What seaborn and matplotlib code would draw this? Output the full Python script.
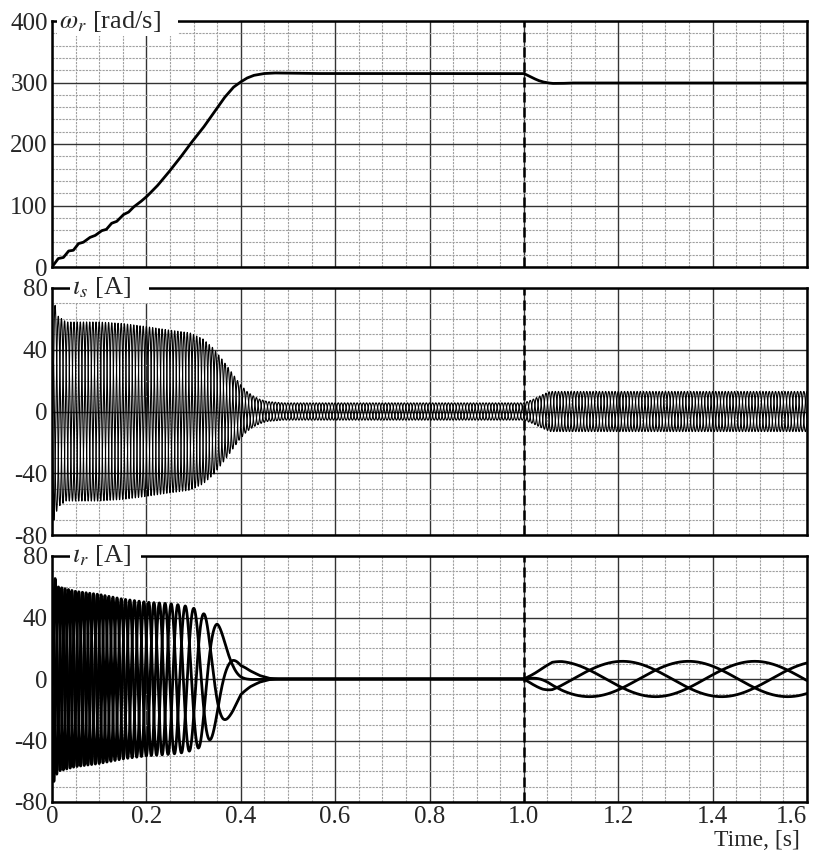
import numpy as np
import pandas as pd
import matplotlib
matplotlib.use('Agg')
import matplotlib.pyplot as plt
from matplotlib.ticker import MultipleLocator
import seaborn as sns

# rotor speed (s, rad/s)
speed_t = [0, 0.013, 0.024, 0.035, 0.045, 0.056, 0.066, 0.080, 0.091, 0.105, 0.115,
           0.126, 0.137, 0.151, 0.162, 0.172, 0.186, 0.200, 0.222, 0.243, 0.270,
           0.292, 0.320, 0.342, 0.365, 0.384, 0.398, 0.4125, 0.427, 0.448, 0.470,
           0.550, 1.000, 1.010, 1.020, 1.030, 1.040, 1.050, 1.060, 1.080, 1.100,
           1.600]
speed_w = [0, 13.7, 15.3, 26, 27, 38, 40, 48, 51, 59, 61,
           71, 74, 85, 89, 97, 105, 114, 131, 150, 176,
           199, 226, 250, 275, 292, 300, 307, 311.5, 314.5, 315.5,
           314.6, 314.6, 311, 307, 303.5, 301, 299.5, 298.5, 298.5, 299.2,
           299.2]

# stator current amplitude (envelope of the 50 Hz band), A
stator_env_t = [0, 0.004, 0.012, 0.03, 0.10, 0.15, 0.20, 0.243, 0.292, 0.32, 0.342,
                0.36, 0.377, 0.398, 0.413, 0.427, 0.44, 0.456, 0.49, 1.0, 1.02,
                1.04, 1.055, 1.6]
stator_env_a = [0, 72, 62, 58, 58, 57, 55, 53, 51, 47, 41,
                34, 27, 18, 13, 10, 8, 6.5, 5.6, 5.6, 8,
                11, 13, 13]

# rotor current amplitude, A
rotor_env_t = [0, 0.004, 0.012, 0.05, 0.10, 0.15, 0.20, 0.25, 0.275, 0.29, 0.31,
               0.333, 0.35, 0.362, 0.383, 0.40, 0.42, 0.44, 0.46, 0.48, 1.0,
               1.02, 1.04, 1.06, 1.08, 1.6]
rotor_env_a = [0, 68, 60, 57, 55, 52, 50, 49, 48, 47, 45,
               40, 36, 31, 21, 11, 6, 2.5, 0.5, 0, 0,
               4, 8, 11, 11.5, 11.5]

supply_freq = 50.0                 # Hz
sync_speed = 2 * np.pi * supply_freq
rotor_peak_time = 1.07             # phase a of rotor current tops out here
load_step = 1.0

time_ticks = [0, 0.2, 0.4, 0.6, 0.8, 1.0, 1.2, 1.4, 1.6]
time_labels = ['0', '0.2', '0.4', '0.6', '0.8', '1.0', '1.2', '1.4', '1.6']

# three-phase waveforms from the read envelopes and the read speed
t = np.linspace(0, 1.6, 16001)
w = np.interp(t, speed_t, speed_w)
slip = sync_speed - w
theta_r = np.concatenate([[0], np.cumsum((slip[1:] + slip[:-1]) / 2 * np.diff(t))])
theta_r -= np.interp(rotor_peak_time, t, theta_r)
theta_s = sync_speed * t
amp_s = np.interp(t, stator_env_t, stator_env_a)
amp_r = np.interp(t, rotor_env_t, rotor_env_a)
shifts = {'a': 0.0, 'b': -2 * np.pi / 3, 'c': 2 * np.pi / 3}

speed_df = pd.DataFrame({'t': t, 'w': w})
stator_df = pd.concat([pd.DataFrame({'t': t, 'i': amp_s * np.cos(theta_s + s), 'ph': k})
                       for k, s in shifts.items()])
rotor_df = pd.concat([pd.DataFrame({'t': t, 'i': amp_r * np.cos(theta_r + s), 'ph': k})
                      for k, s in shifts.items()])

sns.set_style('white')
plt.rcParams['font.family'] = ['Liberation Serif', 'DejaVu Serif']
plt.rcParams['mathtext.fontset'] = 'stix'
plt.rcParams['axes.unicode_minus'] = False

fig = plt.figure(figsize=(8.13, 8.52), dpi=100)
W, H = 813, 852
left, right = 52, 807
boxes = [(21, 267), (288, 535), (556, 802)]
axes = [fig.add_axes([left / W, 1 - b / H, (right - left) / W, (b - tp) / H]) for tp, b in boxes]

sns.lineplot(data=speed_df, x='t', y='w', ax=axes[0], color='black', lw=2.0,
             estimator=None, sort=False)
sns.lineplot(data=stator_df, x='t', y='i', hue='ph', ax=axes[1], palette=['black'] * 3,
             lw=0.8, estimator=None, sort=False, legend=False)
sns.lineplot(data=rotor_df, x='t', y='i', hue='ph', ax=axes[2], palette=['black'] * 3,
             lw=2.0, estimator=None, sort=False, legend=False)

labels = [(r'$\omega_r$ [rad/s]   ', 0.009), (r'$\imath_s$ [A]   ', 0.027), (r'$\imath_r$ [A]  ', 0.026)]
for i, ax in enumerate(axes):
    ax.set_xlim(0, 1.6)
    ax.xaxis.set_major_locator(plt.FixedLocator(time_ticks))
    ax.xaxis.set_minor_locator(MultipleLocator(0.05))
    if i == 0:
        ax.set_ylim(0, 400)
        ax.yaxis.set_major_locator(MultipleLocator(100))
        ax.yaxis.set_minor_locator(MultipleLocator(20))
    else:
        ax.set_ylim(-80, 80)
        ax.yaxis.set_major_locator(MultipleLocator(40))
        ax.yaxis.set_minor_locator(MultipleLocator(10))
    ax.grid(which='major', color='#333333', lw=1.0, ls='-')
    ax.grid(which='minor', color='#a0a0a0', lw=0.8, ls=(0, (2, 1)))
    ax.set_axisbelow(True)
    ax.axvline(load_step, color='black', lw=1.8, ls=(0, (4, 2)), zorder=3)
    for sp in ax.spines.values():
        sp.set_color('black')
        sp.set_linewidth(1.8)
    ax.tick_params(which='both', length=0, labelsize=18, pad=3)
    ax.set_xlabel('')
    ax.set_ylabel('')
    if i < 2:
        ax.set_xticklabels([])
    else:
        ax.set_xticklabels(time_labels)
    txt, x0 = labels[i]
    ax.text(x0, 1.0, txt, transform=ax.transAxes, fontsize=19, ha='left', va='center',
            zorder=5, clip_on=False,
            bbox=dict(facecolor='white', edgecolor='none', pad=1.5))

fig.text(800 / W, 1 - 840 / H, 'Time, [s]', fontsize=17, ha='right', va='center')

# keep the last time label inside the figure
fig.canvas.draw()
axes[2].xaxis.get_major_ticks()[-1].label1.set_horizontalalignment('right')
axes[2].xaxis.get_major_ticks()[-1].label1.set_x(1.6)

fig.savefig('out.png', dpi=100)
